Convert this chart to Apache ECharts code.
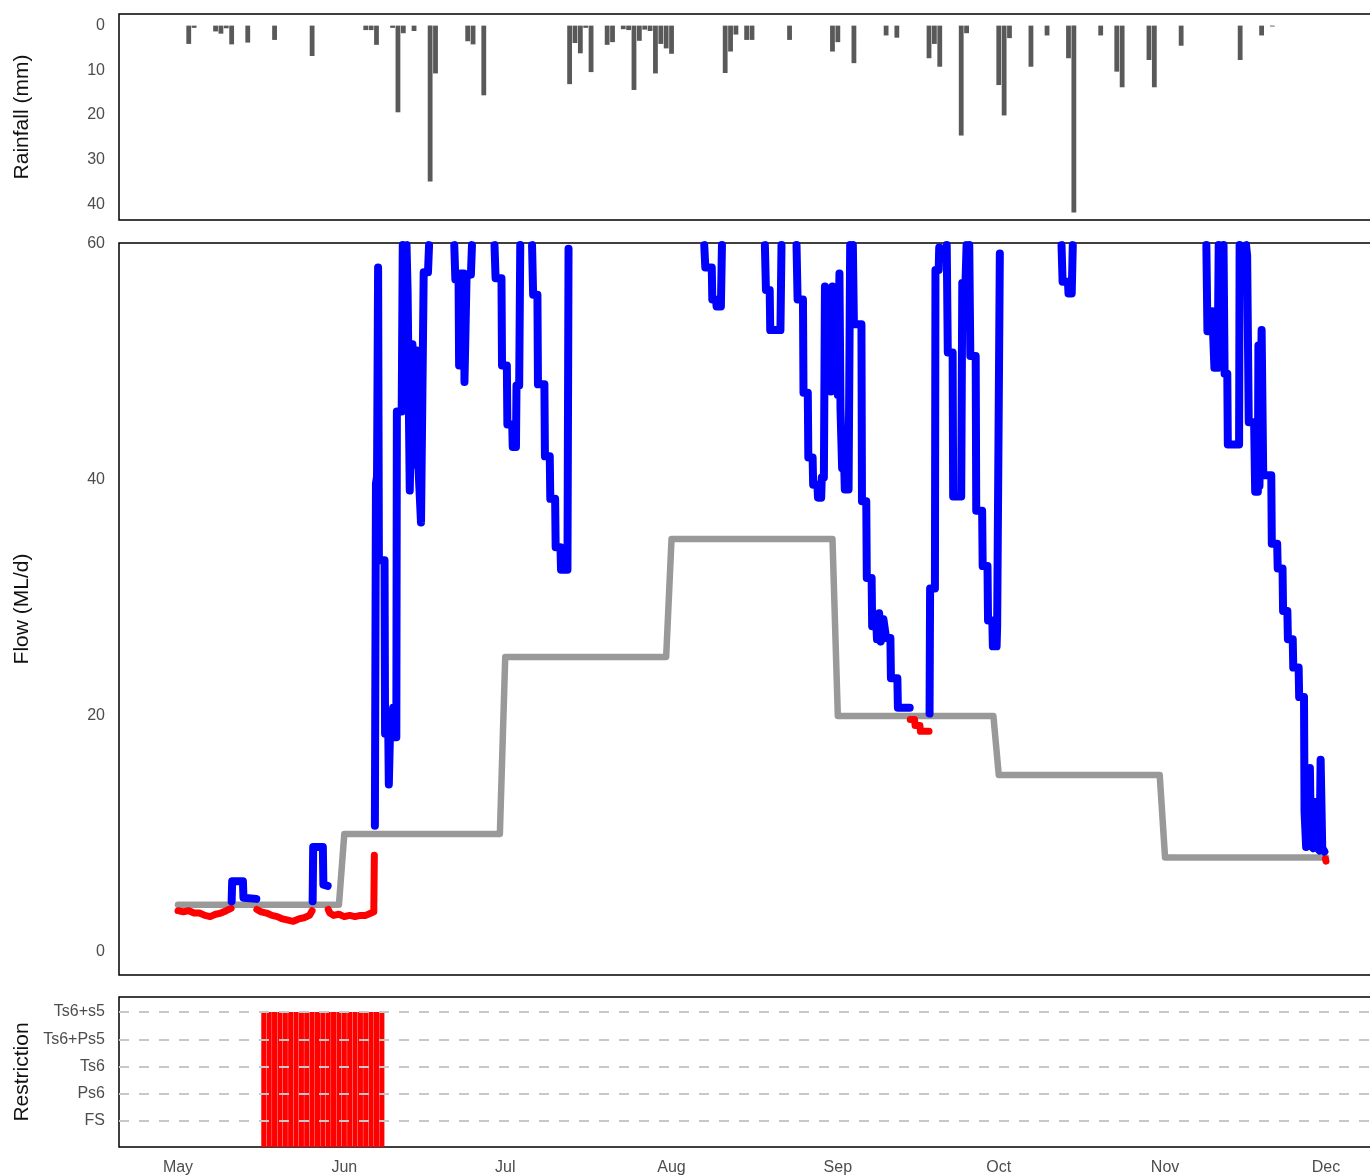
<!DOCTYPE html>
<html>
<head>
<meta charset="utf-8">
<script src="https://cdn.jsdelivr.net/npm/echarts@6/dist/echarts.min.js"></script>
<style>html,body{margin:0;padding:0;background:#fff;overflow:hidden;width:1370px;height:1176px}#c{width:1386px;height:1176px}</style>
</head>
<body>
<div id="c"></div>
<script>
// ---------------- DATA ----------------
const monthLabels = ['May','Jun','Jul','Aug','Sep','Oct','Nov','Dec'];
const monthStarts = ['2021-05-01','2021-06-01','2021-07-01','2021-08-01','2021-09-01','2021-10-01','2021-11-01','2021-12-01'];

// threshold (ML/d) per month, last entry = value on Dec 1 (end of record)
const thresholdValues = [4, 10, 25, 35, 20, 15, 8, 8];

// daily rainfall (mm)
const rainDates = ['2021-05-03','2021-05-04','2021-05-08','2021-05-09','2021-05-10','2021-05-11','2021-05-14','2021-05-19','2021-05-26',
  '2021-06-05','2021-06-06','2021-06-07','2021-06-10','2021-06-11','2021-06-12','2021-06-14','2021-06-17','2021-06-18','2021-06-24','2021-06-25','2021-06-27',
  '2021-07-13','2021-07-14','2021-07-15','2021-07-16','2021-07-17','2021-07-20','2021-07-21','2021-07-23','2021-07-24','2021-07-25','2021-07-26','2021-07-27','2021-07-28','2021-07-29','2021-07-30','2021-07-31',
  '2021-08-01','2021-08-11','2021-08-12','2021-08-13','2021-08-15','2021-08-16','2021-08-23','2021-08-31',
  '2021-09-01','2021-09-04','2021-09-10','2021-09-12','2021-09-18','2021-09-19','2021-09-20','2021-09-24','2021-09-25',
  '2021-10-01','2021-10-02','2021-10-03','2021-10-07','2021-10-10','2021-10-14','2021-10-15','2021-10-20','2021-10-23','2021-10-24','2021-10-29','2021-10-30',
  '2021-11-04','2021-11-15','2021-11-19','2021-11-21'];
const rainValues = [4.1,0.5,1.3,1.8,0.6,4.2,3.8,3.2,6.8,
  1.0,1.0,4.3,0.5,19.4,1.7,1.2,34.9,10.7,3.5,4.2,15.6,
  13.1,3.9,6.2,0.5,10.4,4.3,3.7,0.8,1.0,14.4,3.4,0.9,1.2,10.7,4.1,5.1,
  6.3,10.6,5.8,2.0,3.2,3.2,3.2,5.8,
  3.7,8.4,2.2,2.7,7.3,4.1,9.2,24.6,1.7,
  13.3,20.1,2.8,9.2,2.2,7.3,41.8,2.2,10.3,13.8,7.7,13.8,
  4.5,7.7,2.2,0.2];

// flow (ML/d): time in days since 1 May, null = above 60 ML/d (off scale)
const flowDays = [0,1,2,3,4,5,6,7,8,9,9.9,10,10.1,12.1,12.2,14.6,14.7,15.5,16.5,17.5,18.5,19.5,20.5,21.5,22.5,23.5,24.5,25,25.1,25.2,27,27.1,27.9,28,28.3,29,30,31,32,33,34,35,36,36.5,36.6,
  36.7,36.9,37.1,37.3,37.45,38.5,38.6,39.2,39.3,39.5,40.1,40.2,40.7,40.8,41.7,41.9,42.2,
  42.6,42.8,43.1,43.2,43.5,43.7,44.0,44.2,44.4,44.7,44.8,45.1,45.3,45.6,45.8,46.6,46.8,47.2,
  51.5,51.7,52.3,52.4,52.6,52.7,53.3,53.4,53.6,53.8,54.6,54.8,55.0,
  59.0,59.2,60.3,60.4,61.3,61.4,62.3,62.4,63.0,63.1,63.6,63.8,64.0,
  66.0,66.2,67.0,67.1,68.3,68.4,69.3,69.4,70.3,70.4,71.3,71.4,72.6,72.8,73.0,
  98.1,98.3,99.5,99.6,100.3,100.4,101.2,101.4,101.6,
  109.4,109.6,110.3,110.4,112.3,112.5,112.7,
  115.3,115.5,116.5,116.6,117.4,117.5,118.3,118.4,119.2,119.3,119.9,120.0,120.4,120.6,121.0,121.3,121.7,122.0,122.4,122.7,123.0,123.3,123.5,123.8,124.2,124.3,125.0,125.3,125.5,
  125.8,126.0,127.4,127.5,128.3,128.4,129.3,129.4,130.2,130.3,130.7,131.0,131.5,132.0,132.8,132.9,134.1,134.2,136.4,136.5,137.3,137.4,138.3,138.4,140.0,140.1,140.2,141.1,141.2,141.8,141.9,142.2,
  143.3,143.5,144.4,144.5,146.0,146.2,146.8,147.0,147.2,
  147.5,147.7,148.7,148.8,149.9,150.0,150.9,151.0,151.8,151.9,152.6,152.7,153.0,153.2,153.4,
  164.7,164.9,165.9,166.0,166.6,166.8,167.0,
  191.7,191.9,192.6,192.8,193.0,193.2,193.8,194.0,194.3,
  194.9,195.1,195.6,195.7,197.8,197.9,198.2,
  199.1,199.3,199.6,200.6,200.8,201.3,201.4,201.6,201.9,202.0,202.3,203.8,203.9,204.9,205.0,205.9,206.0,206.8,206.9,207.8,207.9,208.9,209.0,209.9,210.0,210.3,210.8,211.0,211.2,211.6,212.0,212.2,212.8,213.0,213.3,213.7,213.9,214.0];
const flowValues = [3.5,3.4,3.5,3.3,3.3,3.1,3.0,3.2,3.3,3.5,3.7,4.3,6.0,6.0,4.6,4.5,3.6,3.4,3.3,3.1,3.0,2.8,2.7,2.6,2.8,2.9,3.1,3.5,4.3,8.9,8.9,5.7,5.6,3.6,3.3,3.1,3.2,3.0,3.1,3.0,3.1,3.1,3.3,3.4,8.2,
  10.7,39.7,40.3,58.0,33.2,33.2,18.5,18.5,14.2,18.2,20.7,18.2,18.2,45.8,45.8,59.9,null,
  59.9,56.0,56.0,39.1,39.1,51.5,51.5,41.3,51.0,51.0,41.3,41.3,36.4,36.4,57.6,57.6,59.9,null,
  59.9,57.0,57.0,49.7,49.7,57.5,57.5,48.3,48.3,57.4,57.4,59.9,null,
  59.9,57.1,57.1,49.7,49.7,44.7,44.7,42.8,42.8,48.0,48.0,59.9,null,
  59.9,55.7,55.7,48.1,48.1,42.0,42.0,38.4,38.4,34.3,34.3,32.4,32.4,59.6,null,
  59.9,58.0,58.0,55.3,55.3,54.7,54.7,59.9,null,
  59.9,56.1,56.1,52.7,52.7,59.9,null,
  59.9,55.3,55.3,47.4,47.4,41.9,41.9,39.6,39.6,38.5,38.5,40.2,40.2,56.4,48.0,56.2,47.5,56.4,48.0,56.0,47.2,57.5,46.0,41.0,41.0,39.2,39.2,59.9,null,
  59.9,53.2,53.2,38.2,38.2,31.7,31.7,27.6,27.6,26.5,28.7,26.3,28.2,26.6,26.6,23.2,23.2,20.7,20.7,19.7,19.7,19.2,19.2,18.7,18.7,20.2,30.8,30.8,57.8,57.8,59.7,null,
  59.9,50.8,50.8,38.6,38.6,56.7,56.7,59.9,null,
  59.9,50.5,50.5,37.4,37.4,32.7,32.7,28.1,28.1,25.9,25.9,27.6,27.6,59.2,null,
  59.9,56.8,56.8,55.8,55.8,59.9,null,
  59.9,52.6,52.6,54.3,54.3,49.5,49.5,59.9,null,
  59.9,49.0,49.0,43.0,43.0,59.9,null,
  59.9,59.0,44.9,44.9,39.0,39.0,51.4,39.5,39.5,52.7,40.4,40.4,34.6,34.6,32.5,32.5,28.9,28.9,26.5,26.5,24.1,24.1,21.6,21.6,11.9,8.9,9.2,15.6,9.0,8.8,12.7,8.9,8.6,16.3,8.8,8.5,7.9,7.7];

// restriction level per day
const restrictionLevels = ['FS','Ps6','Ts6','Ts6+Ps5','Ts6+s5'];
const restrictionDates = ['2021-05-17','2021-05-18','2021-05-19','2021-05-20','2021-05-21','2021-05-22','2021-05-23','2021-05-24','2021-05-25','2021-05-26','2021-05-27','2021-05-28',
  '2021-05-29','2021-05-30','2021-05-31','2021-06-01','2021-06-02','2021-06-03','2021-06-04','2021-06-05','2021-06-06','2021-06-07','2021-06-08'];
const restrictionValues = restrictionDates.map(() => 'Ts6+s5');

// ---------------- BUILD ----------------
const DAY = 86400000;
const toT = s => Date.parse(s + 'T00:00:00Z');
const T0 = toT(monthStarts[0]);
const monthTs = monthStarts.map(toT);
const xMin = T0 - 11 * DAY, xMax = T0 + 225 * DAY;
const nDays = Math.round((monthTs[7] - T0) / DAY);

const thrDaily = [];
for (let d = 0; d <= nDays; d++) {
  const m = new Date(T0 + d * DAY).getUTCMonth() - 4;
  thrDaily.push(thresholdValues[m]);
}
function thrAt(d) {
  const i = Math.max(0, Math.min(nDays, Math.floor(d)));
  const j = Math.min(nDays, i + 1);
  const f = d - Math.floor(d);
  return thrDaily[i] + (thrDaily[j] - thrDaily[i]) * f;
}
const thrData = thrDaily.map((v, d) => [T0 + d * DAY, v]);
const blue = [], red = [];
flowDays.forEach((d, i) => {
  const v = flowValues[i], t = T0 + d * DAY;
  if (v == null) { blue.push([t, null]); red.push([t, null]); return; }
  const hi = v >= thrAt(d);
  blue.push([t, hi ? v : null]);
  red.push([t, hi ? null : v]);
});
const rainData = rainDates.map((s, i) => [toT(s), rainValues[i]]);
const restrData = restrictionDates.map((s, i) => [toT(s), restrictionLevels.indexOf(restrictionValues[i]) + 1]);

const FONT = 'Liberation Sans, Arial, sans-serif';
const lab = { color: '#4d4d4d', fontSize: 16, fontFamily: FONT, margin: 14 };
const nameStyle = { color: '#111', fontSize: 21, fontFamily: FONT };

function xAxis(i) {
  return {
    type: 'value', gridIndex: i, min: xMin, max: xMax,
    axisLine: { show: false }, axisTick: { show: false }, splitLine: { show: false },
    axisLabel: Object.assign({}, lab, {
      show: i === 2, margin: 13, customValues: monthTs,
      formatter: v => monthLabels[monthTs.indexOf(v)] || ''
    })
  };
}
function yAxis(i, o) {
  return Object.assign({
    type: 'value', gridIndex: i,
    axisLine: { show: false }, axisTick: { show: false }, splitLine: { show: false },
    nameLocation: 'middle', nameGap: 86, nameTextStyle: nameStyle
  }, o);
}

const grids = [
  { left: 119, right: 1, top: 14, height: 206 },
  { left: 119, right: 1, top: 243, height: 732 },
  { left: 119, right: 1, top: 997, height: 150 }
].map(g => Object.assign(g, { show: true, borderColor: '#000', borderWidth: 1.5, backgroundColor: '#fff' }));

const option = {
  animation: false,
  backgroundColor: '#fff',
  grid: grids,
  xAxis: [xAxis(0), xAxis(1), xAxis(2)],
  yAxis: [
    yAxis(0, { name: 'Rainfall (mm)', min: -2.6, max: 43.5, inverse: true,
      axisLabel: Object.assign({}, lab, { customValues: [0, 10, 20, 30, 40] }) }),
    yAxis(1, { name: 'Flow (ML/d)', min: -1.95, max: 60.08,
      axisLabel: Object.assign({}, lab, { customValues: [0, 20, 40, 60] }) }),
    yAxis(2, { name: 'Restriction', min: 0.05, max: 5.55,
      axisLabel: Object.assign({}, lab, { customValues: [1, 2, 3, 4, 5], formatter: v => restrictionLevels[Math.round(v) - 1] || '' }) })
  ],
  series: [
    { type: 'bar', xAxisIndex: 0, yAxisIndex: 0, data: rainData, barWidth: 4.8,
      itemStyle: { color: '#595959' }, silent: true },
    { type: 'line', xAxisIndex: 1, yAxisIndex: 1, data: thrData, showSymbol: false, z: 2,
      lineStyle: { color: '#999999', width: 6.5, cap: 'round', join: 'round' }, silent: true },
    { type: 'line', xAxisIndex: 1, yAxisIndex: 1, data: red, showSymbol: false, z: 3, connectNulls: false,
      lineStyle: { color: '#ff0000', width: 7, cap: 'round', join: 'round' }, silent: true },
    { type: 'line', xAxisIndex: 1, yAxisIndex: 1, data: blue, showSymbol: false, z: 4, connectNulls: false,
      lineStyle: { color: '#0000ff', width: 8, cap: 'round', join: 'round' }, silent: true },
    { type: 'bar', xAxisIndex: 2, yAxisIndex: 2, data: restrData, barWidth: 5.1,
      itemStyle: { color: '#ff0000' }, silent: true,
      markLine: { silent: true, symbol: ['none', 'none'], label: { show: false }, z: 10,
        lineStyle: { color: '#c8c8c8', type: [10, 10], width: 2 },
        data: [1, 2, 3, 4, 5].map(v => ({ yAxis: v })) } }
  ]
};
const chart = echarts.init(document.getElementById('c'), null, { renderer: 'canvas' });
chart.setOption(option);
</script>
</body>
</html>
